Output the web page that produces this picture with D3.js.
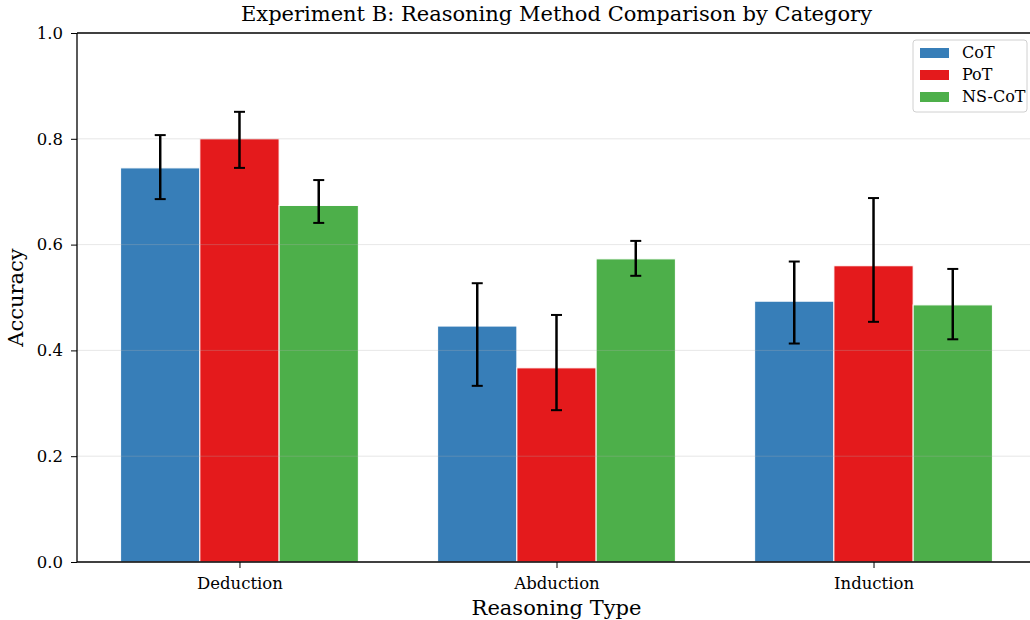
<!DOCTYPE html>
<html><head><meta charset="utf-8">
<script src="https://cdn.jsdelivr.net/npm/d3@7"></script>
<style>body{margin:0;background:#fff;} svg{display:block;font-family:"DejaVu Serif",serif;}</style>
</head><body>
<svg id="c" width="1030" height="620"></svg>
<script>
const categories = ["Deduction", "Abduction", "Induction"];
const series = ["CoT", "PoT", "NS-CoT"];
const colors = ["#377eb8", "#e41a1c", "#4daf4a"];
const cotValues = [0.745, 0.446, 0.493];
const potValues = [0.800, 0.367, 0.560];
const nscotValues = [0.674, 0.573, 0.486];
const cotLow = [0.686, 0.333, 0.413];
const cotHigh = [0.807, 0.527, 0.568];
const potLow = [0.745, 0.287, 0.454];
const potHigh = [0.851, 0.467, 0.688];
const nscotLow = [0.641, 0.541, 0.421];
const nscotHigh = [0.722, 0.607, 0.554];
const yTicks = [0.0, 0.2, 0.4, 0.6, 0.8, 1.0];
const gridTicks = [0.2, 0.4, 0.6, 0.8];

const values = [cotValues, potValues, nscotValues];
const lows = [cotLow, potLow, nscotLow];
const highs = [cotHigh, potHigh, nscotHigh];

const svg = d3.select("#c");
const L = 77, T = 33, B = 562, R = 1036;
const barW = 0.25;
const x = d3.scaleLinear().domain([-0.5125, 2.5125]).range([L, R]);
const y = d3.scaleLinear().domain([0, 1]).range([B, T]);

// bars
series.forEach((s, si) => {
  const g = svg.append("g");
  g.selectAll("rect").data(categories).join("rect")
    .attr("x", (d, i) => x(i + (si - 1) * barW - barW / 2))
    .attr("width", x(barW) - x(0))
    .attr("y", (d, i) => y(values[si][i]))
    .attr("height", (d, i) => y(0) - y(values[si][i]))
    .attr("fill", colors[si])
    .attr("stroke", "#fff").attr("stroke-width", 1);
});

// grid (drawn over bars, translucent)
svg.append("g").selectAll("line").data(gridTicks).join("line")
  .attr("x1", L).attr("x2", R)
  .attr("y1", d => y(d)).attr("y2", d => y(d))
  .attr("stroke", "#b0b0b0").attr("stroke-opacity", 0.3).attr("stroke-width", 1);

// error bars
series.forEach((s, si) => {
  const g = svg.append("g").attr("stroke", "#000").attr("stroke-width", 2.5);
  categories.forEach((c, i) => {
    const cx = x(i + (si - 1) * barW);
    const y1 = y(lows[si][i]), y2 = y(highs[si][i]);
    g.append("line").attr("x1", cx).attr("x2", cx).attr("y1", y1).attr("y2", y2);
    g.append("line").attr("x1", cx - 5.5).attr("x2", cx + 5.5).attr("y1", y1).attr("y2", y1).attr("stroke-width", 2);
    g.append("line").attr("x1", cx - 5.5).attr("x2", cx + 5.5).attr("y1", y2).attr("y2", y2).attr("stroke-width", 2);
  });
});

// axes
const yAxis = d3.axisLeft(y).tickValues(yTicks).tickFormat(d3.format(".1f")).tickSize(6).tickPadding(8);
const gy = svg.append("g").attr("transform", `translate(${L},0)`).call(yAxis);
gy.select(".domain").remove();
gy.selectAll("text").attr("font-size", 16.5).attr("font-family", "DejaVu Serif").attr("fill", "#000");
gy.selectAll("line").attr("stroke", "#000").attr("stroke-width", 1);

const xAxis = d3.axisBottom(x).tickValues([0, 1, 2]).tickFormat(i => categories[i]).tickSize(6).tickPadding(9);
const gx = svg.append("g").attr("transform", `translate(0,${B})`).call(xAxis);
gx.select(".domain").remove();
gx.selectAll("text").attr("font-size", 16.5).attr("font-family", "DejaVu Serif").attr("fill", "#000");
gx.selectAll("line").attr("stroke", "#000").attr("stroke-width", 1);

// spines
const sp = svg.append("g").attr("stroke", "#000").attr("stroke-width", 1.3).attr("fill", "none");
sp.append("line").attr("x1", L).attr("x2", L).attr("y1", T).attr("y2", B);
sp.append("line").attr("x1", L).attr("x2", R).attr("y1", B).attr("y2", B);
sp.append("line").attr("x1", L).attr("x2", R).attr("y1", T).attr("y2", T);
sp.append("line").attr("x1", R).attr("x2", R).attr("y1", T).attr("y2", B);

// title & labels
svg.append("text").attr("x", (L + R) / 2).attr("y", 21).attr("text-anchor", "middle")
  .attr("font-size", 21).text("Experiment B: Reasoning Method Comparison by Category");
svg.append("text").attr("x", (L + R) / 2).attr("y", 615).attr("text-anchor", "middle")
  .attr("font-size", 21).text("Reasoning Type");
svg.append("text").attr("transform", `translate(23,${(T + B) / 2}) rotate(-90)`).attr("text-anchor", "middle")
  .attr("font-size", 21).text("Accuracy");

// legend
const lg = svg.append("g").attr("transform", "translate(913,40)");
lg.append("rect").attr("width", 114).attr("height", 72).attr("rx", 3)
  .attr("fill", "#fff").attr("fill-opacity", 0.8).attr("stroke", "#d0d0d0").attr("stroke-width", 1);
series.forEach((s, si) => {
  const ry = 8 + si * 22;
  lg.append("rect").attr("x", 7).attr("y", ry).attr("width", 29).attr("height", 10).attr("fill", colors[si]);
  lg.append("text").attr("x", 49).attr("y", ry + 10).attr("font-size", 16).text(s);
});
</script>
</body></html>
